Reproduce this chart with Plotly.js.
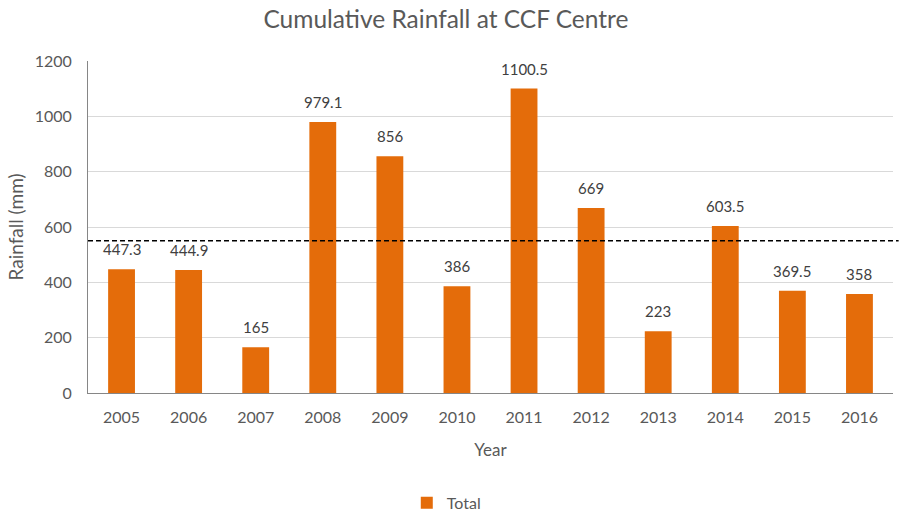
<!DOCTYPE html>
<html><head><meta charset="utf-8">
<script src="https://cdn.plot.ly/plotly-3.0.1.min.js"></script>
<style>body{margin:0;background:#fff}#c{width:899px;height:512px}</style>
</head><body><div id="c"></div>
<script>
const years = ['2005','2006','2007','2008','2009','2010','2011','2012','2013','2014','2015','2016'];
const totals = [447.3,444.9,165,979.1,856,386,1100.5,669,223,603.5,369.5,358];
const labels = ['447.3','444.9','165','979.1','856','386','1100.5','669','223','603.5','369.5','358'];
const meanRainfall = 550;
const yTicks = [0,200,400,600,800,1000,1200];

const font = 'Lato, "Open Sans", sans-serif';
const annotations = years.map((yr, i) => ({
  x: i, y: totals[i], xref:'x', yref:'y', text: labels[i], showarrow:false,
  yanchor:'bottom', yshift:9, font:{family:font, size:15, color:'#404040'}
}));
Plotly.newPlot('c', [{
  type:'bar', x: years, y: totals, name:'Total',
  marker:{color:'#E46C0A'}, hoverinfo:'x+y'
}], {
  width:899, height:512,
  margin:{l:88, r:6, t:61, b:119, autoexpand:false},
  paper_bgcolor:'#fff', plot_bgcolor:'#fff',
  title:{text:'Cumulative Rainfall at CCF Centre', x:0.496, xanchor:'center', y:0.962, yanchor:'middle',
    font:{family:font, size:24.5, color:'#595959'}},
  bargap:0.6,
  xaxis:{type:'category', range:[-0.5, 11.5], showline:true, linecolor:'#868686', linewidth:1, ticks:'',
    ticklabelstandoff:10,
    tickfont:{family:font, size:16, color:'#595959'},
    title:{text:'Year', font:{family:font, size:17, color:'#595959'}, standoff:18}},
  yaxis:{range:[0,1200], tickvals:yTicks, showline:true, linecolor:'#868686', linewidth:1,
    gridcolor:'#D9D9D9', zeroline:false, ticks:'', ticklabelstandoff:12,
    tickfont:{family:font, size:16, color:'#595959'},
    title:{text:'Rainfall (mm)', font:{family:font, size:19, color:'#595959'}, standoff:6}},
  showlegend:true,
  legend:{orientation:'h', x:0.396, xanchor:'left', y:-0.331, yanchor:'middle',
    font:{family:font, size:16, color:'#595959'}},
  annotations: annotations,
  shapes:[{type:'line', xref:'paper', x0:0, x1:1.007, yref:'y', y0:meanRainfall, y1:meanRainfall,
    line:{color:'#000', width:1.5, dash:'5px,3px'}}]
}, {displayModeBar:false});
</script></body></html>
